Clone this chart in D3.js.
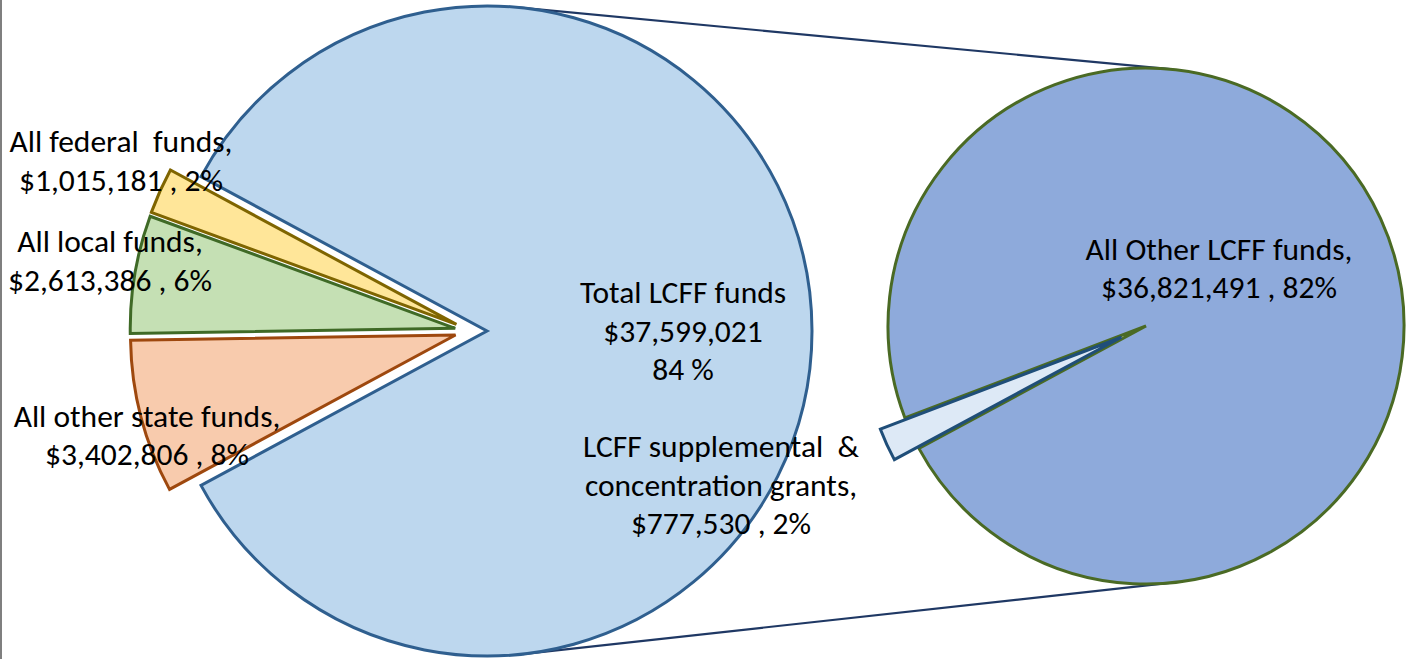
<!DOCTYPE html>
<html>
<head>
<meta charset="utf-8">
<script src="https://cdn.jsdelivr.net/npm/d3@7/dist/d3.min.js"></script>
<style>
  html, body { margin: 0; padding: 0; background: #fff; }
  svg { display: block; }
  text { font-family: "Carlito", "Open Sans", "Noto Sans", sans-serif; fill: #000; }
</style>
</head>
<body>
<svg id="chart" width="1409" height="659"></svg>
<script>
// ---------- DATA ----------
const mainCategories = ["Total LCFF funds", "All other state funds", "All local funds", "All federal funds"];
const mainValues     = [37599021, 3402806, 2613386, 1015181];
const subCategories  = ["LCFF supplemental & concentration grants", "All Other LCFF funds"];
const subValues      = [777530, 36821491];
const mainLabelLines = [
  ["Total LCFF funds", "$37,599,021", "84 %"],
  ["All other state funds,", "$3,402,806 , 8%"],
  ["All local funds,", "$2,613,386 , 6%"],
  ["All federal  funds,", "$1,015,181 , 2%"]
];
const subLabelLines = [
  ["LCFF supplemental  &", "concentration grants,", "$777,530 , 2%"],
  ["All Other LCFF funds,", "$36,821,491 , 82%"]
];

// ---------- STYLE / LAYOUT ----------
const mainFill   = ["#BDD7EE", "#F8CBAD", "#C5E0B4", "#FFE699"];
const mainStroke = ["#2F5F8F", "#9E480E", "#3F6A26", "#7F6500"];
const subFill    = ["#DDE9F6", "#8EAADB"];
const subStroke  = ["#1F4E79", "#4A6A24"];
const fontSize = 31.5, lineGap = 38.5;
const mainCenter = [471, 331], mainR = 325, mainExplode = 16;
const subCenter = [1146, 326], subR = 258, subExplode = 27;
const subSliceMid = 245.4 * Math.PI / 180;
const mainLabelPos = [[683, 303], [147, 426.5], [110, 252], [121, 152]];
const subLabelPos  = [[721, 457], [1219, 259.5]];

const svg = d3.select("#chart");
const W = 1409, H = 659;

// left frame line
svg.append("line").attr("x1", 1).attr("x2", 1).attr("y1", 0).attr("y2", H)
  .attr("stroke", "#7f7f7f").attr("stroke-width", 2);

// ---------- MAIN PIE ----------
const total = d3.sum(mainValues);
const otherAngle = mainValues[0] / total * 2 * Math.PI;
const mainPie = d3.pie().sort(null).value(d => d)
  .startAngle(Math.PI / 2 - otherAngle / 2)
  .endAngle(Math.PI / 2 - otherAngle / 2 + 2 * Math.PI);
const mainArcs = mainPie(mainValues);
const mainArc = d3.arc().innerRadius(0).outerRadius(mainR);

function explodeOffset(a, e) {
  const mid = (a.startAngle + a.endAngle) / 2;
  return [Math.sin(mid) * e, -Math.cos(mid) * e];
}

// ---------- SUB PIE ----------
const subTotal = d3.sum(subValues);
const smallAngle = subValues[0] / subTotal * 2 * Math.PI;
const subPie = d3.pie().sort(null).value(d => d)
  .startAngle(subSliceMid - smallAngle / 2)
  .endAngle(subSliceMid - smallAngle / 2 + 2 * Math.PI);
const subArcs = subPie(subValues);
const subArc = d3.arc().innerRadius(0).outerRadius(subR);

// connector lines: external common tangents between the exploded "other" slice circle and the sub pie
const off0 = explodeOffset(mainArcs[0], mainExplode);
const c1 = [mainCenter[0] + off0[0], mainCenter[1] + off0[1]];
const c2 = subCenter;
const dx = c2[0] - c1[0], dy = c2[1] - c1[1];
const D = Math.hypot(dx, dy);
const ux = dx / D, uy = dy / D;
const k = (mainR - subR) / D, s = Math.sqrt(1 - k * k);
[-1, 1].forEach(sign => {
  const nx = k * ux + sign * s * (-uy);
  const ny = k * uy + sign * s * (ux);
  svg.append("line")
    .attr("x1", c1[0] + mainR * nx).attr("y1", c1[1] + mainR * ny)
    .attr("x2", c2[0] + subR * nx).attr("y2", c2[1] + subR * ny)
    .attr("stroke", "#1F3864").attr("stroke-width", 2.2);
});

const gMain = svg.append("g").attr("transform", `translate(${mainCenter[0]},${mainCenter[1]})`);
gMain.selectAll("path").data(mainArcs).join("path")
  .attr("transform", d => { const o = explodeOffset(d, mainExplode); return `translate(${o[0]},${o[1]})`; })
  .attr("d", mainArc)
  .attr("fill", (d, i) => mainFill[i])
  .attr("stroke", (d, i) => mainStroke[i])
  .attr("stroke-width", 3)
  .attr("stroke-linejoin", "miter");

const gSub = svg.append("g").attr("transform", `translate(${subCenter[0]},${subCenter[1]})`);
gSub.selectAll("path").data(subArcs.slice().reverse()).join("path")
  .attr("transform", d => { const o = explodeOffset(d, d.index === 0 ? subExplode : 0); return `translate(${o[0]},${o[1]})`; })
  .attr("d", subArc)
  .attr("fill", d => subFill[d.index])
  .attr("stroke", d => subStroke[d.index])
  .attr("stroke-width", 3)
  .attr("stroke-linejoin", "miter");

// ---------- LABELS ----------
function addLabel(lines, pos) {
  const t = svg.append("text").attr("text-anchor", "middle").attr("font-size", fontSize)
    .attr("xml:space", "preserve").style("white-space", "pre");
  lines.forEach((ln, j) => {
    t.append("tspan").attr("x", pos[0]).attr("y", pos[1] + j * lineGap).text(ln);
  });
}
mainLabelLines.forEach((l, i) => addLabel(l, mainLabelPos[i]));
subLabelLines.forEach((l, i) => addLabel(l, subLabelPos[i]));
</script>
</body>
</html>
